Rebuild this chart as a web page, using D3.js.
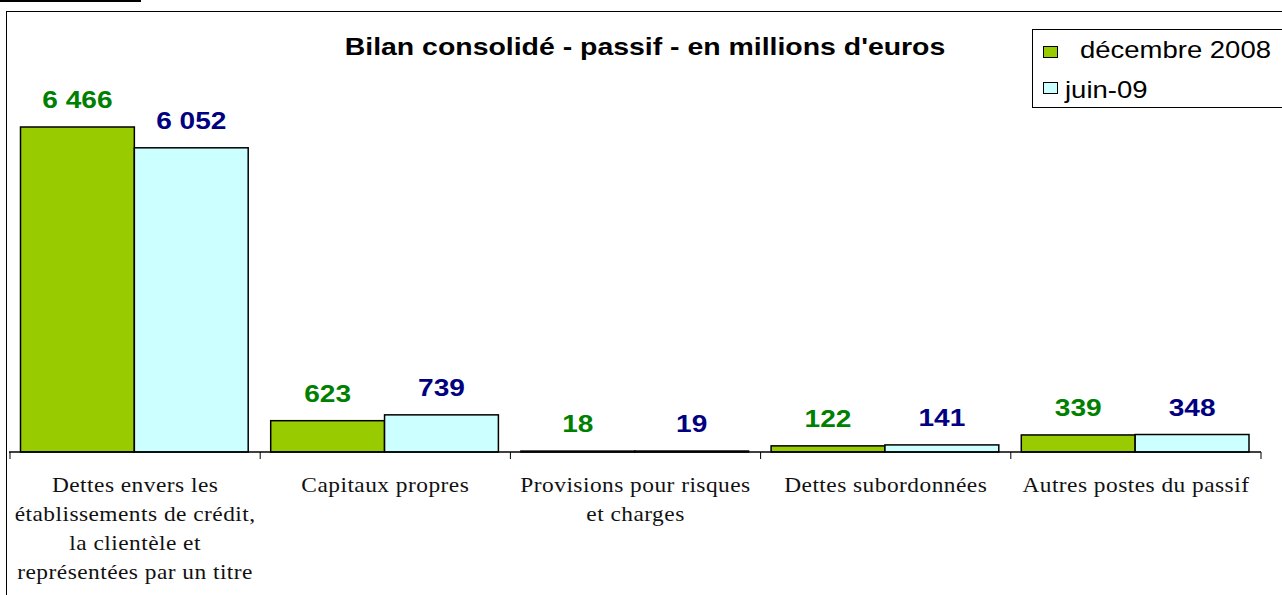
<!DOCTYPE html>
<html>
<head>
<meta charset="utf-8">
<script src="https://cdn.jsdelivr.net/npm/d3@7"></script>
<style>
  body { margin: 0; background: #fff; }
  svg { display: block; }
</style>
</head>
<body>
<svg id="chart" width="1282" height="595"></svg>
<script>
// data
const categories = [
    ['Dettes envers les', 'établissements de crédit,', 'la clientèle et', 'représentées par un titre'],
    ['Capitaux propres'],
    ['Provisions pour risques', 'et charges'],
    ['Dettes subordonnées'],
    ['Autres postes du passif']
];
const seriesNames = ['décembre 2008', 'juin-09'];
const dec2008 = [6466, 623, 18, 122, 339];
const jun09 = [6052, 739, 19, 141, 348];

const fillColors = ['#99cc00', '#ccffff'];
const labelColors = ['#008000', '#000080'];
const SX = 1.17; // the original picture is stretched horizontally

const svg = d3.select('#chart');
const fr = d3.formatLocale({decimal: ',', thousands: ' ', grouping: [3], currency: ['', ' €']});
const fmt = fr.format(',d');

const catIdx = d3.range(categories.length);
const margin = {left: 10, right: 1261, base: 452};

// stretched text helper
function sText(g, str, x, y, opts) {
    return g.append('text')
        .text(str)
        .attr('transform', 'translate(' + x + ',' + y + ') scale(' + SX + ',1)')
        .attr('text-anchor', opts.anchor || 'middle')
        .attr('font-family', opts.family || 'Liberation Sans, Arial, sans-serif')
        .attr('font-size', opts.size)
        .attr('font-weight', opts.weight || 'normal')
        .attr('letter-spacing', opts.spacing || 0)
        .attr('fill', opts.color || '#000');
}

// frame
svg.append('rect')
    .attr('x', 0).attr('y', 0)
    .attr('width', 141).attr('height', 2)
    .style('fill', '#000');
svg.append('rect')
    .attr('x', 6.5).attr('y', 11.5)
    .attr('width', 1300).attr('height', 620)
    .style('fill', 'none')
    .style('stroke', '#000')
    .style('stroke-width', 1);

const x0 = d3.scaleBand().domain(catIdx).range([margin.left, margin.right]);
const x1 = d3.scaleBand().domain([0, 1]).range([10.5, x0.bandwidth() - 12]);
const y = d3.scaleLinear().domain([0, 7000]).range([margin.base, margin.base - 7000 * 325 / 6466]);

const series = [dec2008, jun09];

const g = svg.append('g');

//bars
series.forEach(function (vals, s) {
    g.selectAll('rect.s' + s)
        .data(vals)
        .enter().append('rect')
        .attr('class', 's' + s)
        .attr('x', (d, i) => x0(i) + x1(s))
        .attr('y', d => y(d))
        .attr('width', x1.bandwidth())
        .attr('height', d => y(0) - y(d))
        .style('fill', fillColors[s])
        .style('stroke', '#000')
        .style('stroke-width', 1.5);
});

//value labels
series.forEach(function (vals, s) {
    vals.forEach(function (v, i) {
        sText(g, fmt(v), x0(i) + x1(s) + x1.bandwidth() / 2, y(v) - 19,
            {size: 24, weight: 'bold', color: labelColors[s]});
    });
});

//axis
g.append('line')
    .attr('x1', margin.left - 1).attr('x2', margin.right)
    .attr('y1', margin.base).attr('y2', margin.base)
    .style('stroke', '#000').style('stroke-width', 1.5);
catIdx.concat([categories.length]).forEach(function (i) {
    const xx = i < categories.length ? x0(i) : x0.range()[1];
    g.append('line')
        .attr('x1', xx).attr('x2', xx)
        .attr('y1', margin.base).attr('y2', margin.base + 7)
        .style('stroke', '#000').style('stroke-width', 1);
});

//category labels
categories.forEach(function (lines, i) {
    lines.forEach(function (line, k) {
        sText(g, line, x0(i) + x0.bandwidth() / 2, 492 + k * 29,
            {size: 20, spacing: 0.4, family: 'Liberation Serif, Times New Roman, serif', color: '#111'});
    });
});

//title
sText(svg, "Bilan consolidé - passif - en millions d'euros", 645, 55,
    {size: 24.3, weight: 'bold'});

//legend
const leg = svg.append('g');
leg.append('rect')
    .attr('x', 1032.5).attr('y', 29.5)
    .attr('width', 300).attr('height', 78)
    .style('fill', '#fff').style('stroke', '#000').style('stroke-width', 1);
const legX = [1080, 1065];
seriesNames.forEach(function (name, s) {
    leg.append('rect')
        .attr('x', 1043.5).attr('y', 46.5 + s * 36)
        .attr('width', 14).attr('height', 11)
        .style('fill', fillColors[s])
        .style('stroke', '#000').style('stroke-width', 1);
    sText(leg, name, legX[s], 58 + s * 40, {size: 23.5, anchor: 'start'});
});
</script>
</body>
</html>
